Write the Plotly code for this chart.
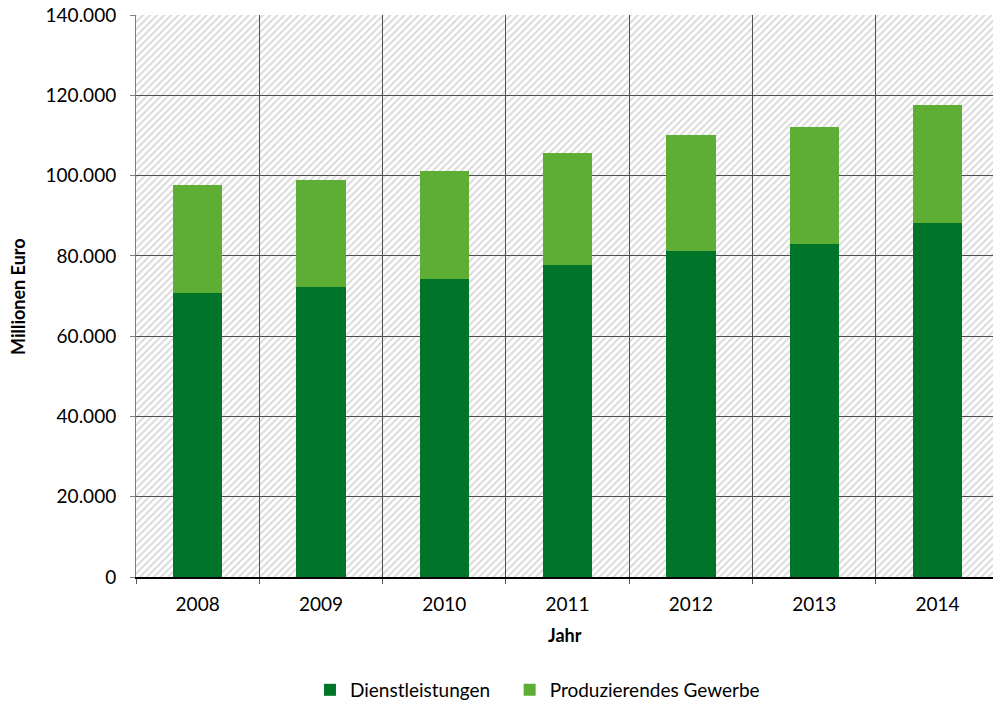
import plotly.graph_objects as go

# data (Millionen Euro)
jahre = ["2008", "2009", "2010", "2011", "2012", "2013", "2014"]
dienstleistungen = [70700, 72300, 74300, 77600, 81200, 83000, 88100]
produzierendes_gewerbe = [27000, 26500, 26800, 28000, 28800, 29000, 29400]

y_max = 140000
FONT = "Lato"
DARK = "#00752A"
LIGHT = "#5EAD35"

fig = go.Figure()

# hatched plot background, drawn on its own subplot underneath the grid
fig.add_trace(go.Bar(
    x=jahre, y=[y_max] * len(jahre), width=1,
    marker=dict(color="white", line_width=0,
                pattern=dict(shape="/", fgcolor="#B4B4B4", bgcolor="white", size=5, solidity=0.4)),
    hoverinfo="skip", showlegend=False, xaxis="x", yaxis="y",
))

fig.add_trace(go.Bar(
    x=jahre, y=dienstleistungen, name="Dienstleistungen",
    marker=dict(color=DARK, line_width=0), xaxis="x2", yaxis="y2", legend="legend",
))
fig.add_trace(go.Bar(
    x=jahre, y=produzierendes_gewerbe, name="Produzierendes Gewerbe",
    marker=dict(color=LIGHT, line_width=0), xaxis="x2", yaxis="y2", legend="legend2",
))

xr = [-0.5, len(jahre) - 0.55]

fig.update_layout(
    width=993, height=707,
    margin=dict(l=136, r=0, t=15, b=130, autoexpand=False),
    barmode="stack", bargap=0.6,
    separators=",.",
    plot_bgcolor="rgba(0,0,0,0)", paper_bgcolor="white",
    font=dict(family=FONT, size=19, color="black"),
    xaxis=dict(type="category", range=xr, visible=False, domain=[0, 1], anchor="y"),
    yaxis=dict(range=[0, y_max], visible=False, domain=[0, 1], anchor="x"),
    xaxis2=dict(
        type="category", range=xr, domain=[0, 1], anchor="y2",
        tickson="boundaries", ticks="outside", ticklen=5, tickcolor="#595959",
        showgrid=True, gridcolor="#505050", gridwidth=1,
        showline=True, linecolor="black", linewidth=1.5,
        ticklabelstandoff=9, fixedrange=True,
    ),
    yaxis2=dict(
        range=[0, y_max], dtick=20000, tickformat=",d", domain=[0, 1], anchor="x2",
        ticks="outside", ticklen=5, tickcolor="#7F7F7F",
        showgrid=True, gridcolor="#505050", gridwidth=1,
        showline=True, linecolor="#7F7F7F", linewidth=1,
        zeroline=False, ticklabelstandoff=10, ticklabeloverflow="allow",
        fixedrange=True,
    ),
    legend=dict(orientation="h", x=0.203, xanchor="left", y=-0.201, yanchor="middle"),
    legend2=dict(orientation="h", x=0.436, xanchor="left", y=-0.201, yanchor="middle"),
    annotations=[
        dict(text="<b>Millionen Euro</b>", xref="paper", yref="paper", x=-0.1377, y=0.5,
             xanchor="center", yanchor="middle", textangle=-90, showarrow=False,
             font=dict(size=18)),
        dict(text="<b>Jahr</b>", xref="paper", yref="paper", x=0.5, y=-0.1032,
             xanchor="center", yanchor="middle", showarrow=False, font=dict(size=18)),
    ],
)

# drop the default 8px page margin so the figure fills the window
fig.write_html("out.html", config={"displayModeBar": False},
               post_script="document.body.style.margin='0px';")
